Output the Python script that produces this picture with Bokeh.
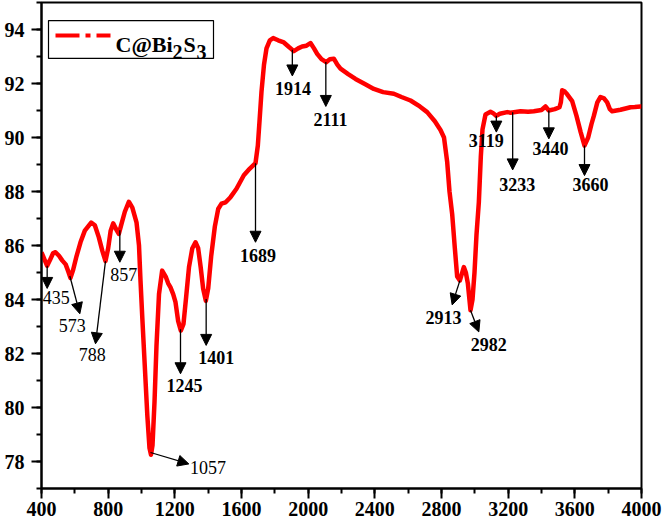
from bokeh.plotting import figure
from bokeh.models import (Range1d, SingleIntervalTicker, Arrow, NormalHead,
                          ColumnDataSource, BoxAnnotation, Label)
from bokeh.core.properties import value
from bokeh.embed import file_html
from bokeh.resources import INLINE
import numpy as np

# ---------------- data ----------------
wavenumber = [400, 420, 434, 450, 470, 484, 505, 524, 545, 560, 574, 590, 610, 634, 660,
              698, 720, 744, 765, 784, 800, 815, 830, 848, 864, 880, 900, 924, 945, 970,
              985, 994, 1005, 1020, 1035, 1048, 1057, 1066, 1078, 1090, 1105, 1124, 1145,
              1160, 1174, 1190, 1204, 1220, 1236, 1252, 1268, 1285, 1305, 1324, 1340, 1355,
              1370, 1386, 1400, 1418, 1440, 1460, 1480, 1505, 1534, 1570, 1614, 1650, 1684,
              1698, 1708, 1720, 1735, 1750, 1770, 1790, 1820, 1854, 1885, 1914, 1940, 1964,
              1990, 2014, 2035, 2054, 2080, 2108, 2130, 2154, 2175, 2194, 2240, 2284, 2340,
              2394, 2450, 2514, 2560, 2614, 2670, 2714, 2760, 2794, 2815, 2834, 2848, 2864,
              2880, 2894, 2910, 2922, 2934, 2946, 2958, 2974, 2986, 2998, 3010, 3024, 3036,
              3046, 3064, 3094, 3110, 3128, 3150, 3194, 3214, 3274, 3320, 3354, 3400, 3424,
              3444, 3480, 3508, 3516, 3524, 3540, 3554, 3584, 3610, 3635, 3658, 3680, 3700,
              3714, 3735, 3754, 3775, 3794, 3810, 3824, 3874, 3934, 3960, 3994, 4000]
transmittance = [85.75, 85.45, 85.25, 85.45, 85.72, 85.75, 85.62, 85.45, 85.3, 85.05, 84.8,
                 85.1, 85.6, 86.12, 86.55, 86.85, 86.75, 86.3, 85.8, 85.42, 85.9, 86.55, 86.82,
                 86.6, 86.43, 86.8, 87.25, 87.62, 87.4, 86.86, 86.0, 84.7, 83.3, 81.5, 79.7,
                 78.5, 78.25, 78.6, 80.2, 82.3, 84.2, 85.07, 84.85, 84.6, 84.45, 84.2, 83.9,
                 83.2, 82.85, 83.1, 84.1, 85.2, 85.9, 86.12, 85.9, 85.2, 84.4, 83.95, 84.4,
                 85.6, 86.7, 87.35, 87.55, 87.6, 87.79, 88.1, 88.6, 88.85, 89.05, 89.7, 90.6,
                 91.7, 92.7, 93.3, 93.6, 93.68, 93.6, 93.52, 93.35, 93.2, 93.3, 93.37, 93.4,
                 93.5, 93.3, 93.1, 92.9, 92.79, 92.9, 92.92, 92.7, 92.55, 92.35, 92.17, 91.98,
                 91.8, 91.68, 91.62, 91.5, 91.37, 91.15, 90.94, 90.6, 90.28, 90.0, 89.1, 88.0,
                 87.17, 85.9, 84.85, 84.7, 84.95, 85.2, 85.0, 84.6, 83.6, 84.0, 85.0, 86.4,
                 87.6, 89.3, 90.3, 90.85, 90.95, 90.9, 90.8, 90.88, 90.94, 90.92, 90.97, 90.95,
                 90.97, 91.02, 91.15, 91.0, 91.05, 91.12, 91.3, 91.75, 91.7, 91.6, 91.35, 90.8,
                 90.2, 89.7, 90.0, 90.5, 90.8, 91.3, 91.5, 91.45, 91.3, 91.05, 90.97, 91.03,
                 91.12, 91.13, 91.15, 91.15]

x_ticks_interval = 400
y_ticks_interval = 2

# peak annotations
peak_labels = ["435", "573", "788", "857", "1057", "1245", "1401", "1689", "1914", "2111",
               "2913", "2982", "3119", "3233", "3440", "3660"]
arrow_x0 = [434, 570, 784, 870, 1054, 1234, 1388, 1684, 1905, 2106, 2910, 2974, 3129, 3227, 3444, 3658]
arrow_x1 = [434, 630, 724, 870, 1284, 1234, 1388, 1684, 1905, 2106, 2864, 3024, 3129, 3227, 3444, 3658]
arrow_y1 = [84.41, 83.47, 82.36, 85.38, 77.91, 81.25, 82.3, 86.12, 92.28, 91.15,
            83.8, 82.8, 90.2, 88.8, 89.95, 88.59]
label_x = [489, 584, 704, 894, 1399, 1258, 1449, 1699, 1909, 2134, 2812, 3084, 3069, 3254, 3454, 3694]
label_y = [84.09, 83.05, 81.95, 84.93, 77.78, 80.81, 81.84, 85.63, 91.8, 90.68,
           83.34, 82.33, 89.89, 88.27, 89.61, 88.26]
label_style = ["normal", "normal", "normal", "normal", "normal", "bold", "bold", "bold", "bold",
               "bold", "bold", "bold", "bold", "bold", "bold", "bold"]

# ---------------- figure ----------------
p = figure(frame_width=600, frame_height=486,
           x_range=Range1d(400, 4000), y_range=Range1d(77, 95),
           output_backend="svg", toolbar_location=None,
           min_border_left=41, min_border_right=22, min_border_top=2, min_border_bottom=35)
p.background_fill_color = "white"
p.border_fill_color = "white"
p.xgrid.visible = False
p.ygrid.visible = False
p.outline_line_color = "black"
p.outline_line_width = 2
p.outline_line_alpha = 1

p.xaxis.ticker = SingleIntervalTicker(interval=x_ticks_interval, num_minor_ticks=2)
p.yaxis.ticker = SingleIntervalTicker(interval=y_ticks_interval, num_minor_ticks=2)
for ax in (p.xaxis, p.yaxis):
    ax.axis_line_width = 2
    ax.axis_line_color = "black"
    ax.major_tick_line_width = 2
    ax.minor_tick_line_width = 2
    ax.major_tick_line_color = "black"
    ax.minor_tick_line_color = "black"
    ax.major_tick_in = 0
    ax.major_tick_out = 10
    ax.minor_tick_in = 0
    ax.minor_tick_out = 5
    ax.major_label_text_font = "Liberation Serif"
    ax.major_label_text_font_style = "bold"
    ax.major_label_text_font_size = "20px"
    ax.major_label_text_color = "black"
p.xaxis.major_label_standoff = 3
p.yaxis.major_label_standoff = 7

# curve
p.line(wavenumber, transmittance, line_color="#ff0000", line_width=4.5, line_join="round")

# arrows
arrow_y0 = list(np.interp(arrow_x0, wavenumber, transmittance))
asrc = ColumnDataSource(dict(x0=arrow_x0, y0=arrow_y0, x1=arrow_x1, y1=arrow_y1))
p.add_layout(Arrow(end=NormalHead(size=11, fill_color="black", line_color="black", line_width=1),
                   x_start="x0", y_start="y0", x_end="x1", y_end="y1",
                   source=asrc, line_color="black", line_width=1.3))

# peak labels
lsrc = ColumnDataSource(dict(x=label_x, y=label_y, t=peak_labels, s=label_style))
p.text(x="x", y="y", text="t", source=lsrc, text_font=value("Liberation Serif"),
       text_font_size="18px", text_font_style="s", text_align="center",
       text_baseline="middle", text_color="black")

# legend (manual, to reproduce large subscripts)
p.add_layout(BoxAnnotation(left=442, right=1432, top=94.33, bottom=92.93,
                           fill_color="white", fill_alpha=1, line_color="black",
                           line_width=1.2, line_alpha=1, level="underlay"))
p.line([484, 814], [93.78, 93.78], line_color="#ff0000", line_width=4, line_dash="24 6 5 6")
legend_parts = ["C@Bi", "2", "S", "3"]
legend_x = [844, 1186, 1252, 1330]
legend_y = [93.46, 93.16, 93.46, 93.16]
legend_size = ["22px", "20px", "22px", "20px"]
for t, lx, ly, fs in zip(legend_parts, legend_x, legend_y, legend_size):
    p.add_layout(Label(x=lx, y=ly, text=t, text_font="Liberation Serif", text_font_style="bold",
                       text_font_size=fs, text_align="left", text_baseline="alphabetic",
                       text_color="black"))

open("out.html", "w").write(file_html(p, INLINE))
